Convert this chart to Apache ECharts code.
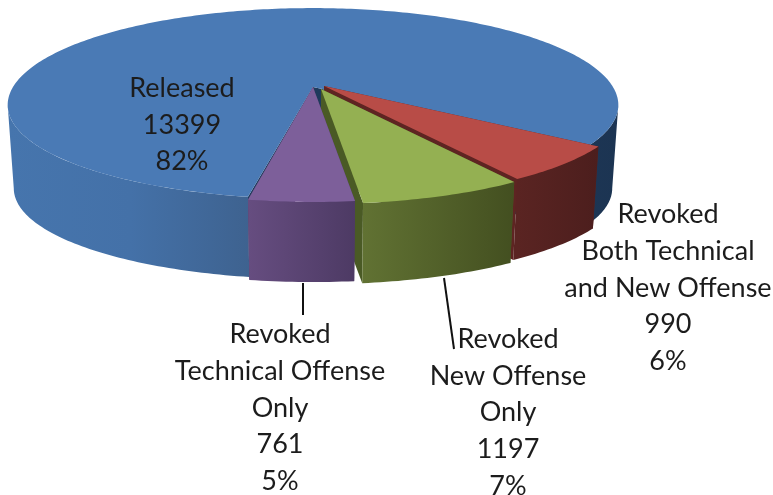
<!DOCTYPE html>
<html>
<head>
<meta charset="utf-8">
<style>
  html, body { margin: 0; padding: 0; background: #fff; }
  #chart { width: 773px; height: 495px; }
</style>
</head>
<body>
<div id="chart"></div>
<script src="https://cdn.jsdelivr.net/npm/echarts@6/dist/echarts.min.js"></script>
<script>
// data, clockwise from the start of the big slice
const categories = [
  'Released',
  'Revoked\nBoth Technical\nand New Offense',
  'Revoked\nNew Offense\nOnly',
  'Revoked\nTechnical Offense\nOnly',
]
const values = [13399, 990, 1197, 761]
const percents = ['82%', '6%', '7%', '5%']

// look of each slice
const topColors = ['#4a7ab5', '#b84c47', '#94b052', '#7d5f9a']
const cutColors = ['#1f3a5c', '#5e2422', '#4a5a25', '#4e3b66']
const wallStops = [
  [[0, '#4675ad'], [0.2, '#4471a8'], [0.4, '#3e628f'], [0.85, '#1e3858'], [1, '#1c3452']],
  [[0, '#5a2422'], [1, '#4c1e1d']],
  [[0, '#617233'], [1, '#434f20']],
  [[0, '#664d80'], [1, '#4d3a64']],
]
const offsets = [[0, 0], [11, -1], [8, 2], [0, 0]]
const frontTrim = [3, 0, 0, 0] // the big slice stops a little short of the others at the front
const labelPos = [[182, 125], [668, 288], [508, 412.5], [280, 408]]

// perspective of the disc, top face and bottom face
const discTop = { cx: 313, cy: 87, a: 300, b: 93.6, k: 0.186 }
const discBottom = { cx: 313, cy: 171, a: 294, b: 90.4, k: 0.186 }
const startAngle = -10.2 // degrees from the front of the pie, right is positive
const sideAngle = (Math.acos(discTop.k) * 180) / Math.PI // where the disc is widest

const total = values.reduce((s, v) => s + v, 0)

function project(disc, deg, idx) {
  const t = (deg * Math.PI) / 180
  const x = Math.sin(t)
  const z = Math.cos(t)
  const w = 1 - disc.k * z
  const trim = frontTrim[idx] * Math.max(z, 0) ** 2
  return [
    disc.cx + (disc.a * x) / w + offsets[idx][0],
    disc.cy + (disc.b * z) / w + offsets[idx][1] - trim,
  ]
}

function arc(disc, from, to, idx) {
  const pts = []
  const n = Math.max(2, Math.ceil(Math.abs(to - from)))
  for (let i = 0; i <= n; i++) {
    pts.push(project(disc, from + ((to - from) * i) / n, idx))
  }
  return pts
}

function sliceRange(idx) {
  let sum = 0
  for (let i = 0; i < idx; i++) sum += values[i]
  const from = startAngle - (sum / total) * 360
  return [from, from - (values[idx] / total) * 360]
}

function poly(points, fill) {
  return { type: 'polygon', shape: { points }, style: { fill, stroke: null } }
}

function wallPiece(from, to, idx, fill) {
  return poly(arc(discTop, from, to, idx).concat(arc(discBottom, from, to, idx).reverse()), fill)
}

function renderSlice(params, api) {
  const idx = params.dataIndex
  const [from, to] = sliceRange(idx)
  const off = offsets[idx]
  const apexTop = [discTop.cx + off[0], discTop.cy + off[1]]
  const apexBottom = [discBottom.cx + off[0], discBottom.cy + off[1]]
  const topArc = arc(discTop, from, to, idx)
  const bottomArc = arc(discBottom, from, to, idx)

  const xs = topArc.map(p => p[0])
  const wallFill = new echarts.graphic.LinearGradient(
    Math.min(...xs), 0, Math.max(...xs), 0,
    wallStops[idx].map(s => ({ offset: s[0], color: s[1] })),
    true
  )

  // only the part of the wall that faces the viewer
  const walls = []
  if (from - to > 180) {
    walls.push(wallPiece(from, -sideAngle, idx, wallFill))
    walls.push(wallPiece(sideAngle - 360, to, idx, wallFill))
  } else {
    walls.push(wallPiece(from, to, idx, wallFill))
  }

  return {
    type: 'group',
    children: [
      // faces left by the cut, seen where a slice is pulled out
      poly([apexTop, topArc[0], bottomArc[0], apexBottom], cutColors[idx]),
      poly([apexTop, topArc[topArc.length - 1], bottomArc[bottomArc.length - 1], apexBottom], cutColors[idx]),
      ...walls,
      poly([apexTop].concat(topArc), topColors[idx]),
    ],
  }
}

function renderLabel(params, api) {
  const idx = params.dataIndex
  return {
    type: 'text',
    x: labelPos[idx][0],
    y: labelPos[idx][1],
    style: {
      text: categories[idx] + '\n' + api.value(0) + '\n' + percents[idx],
      font: '27px Lato, "Open Sans", sans-serif',
      lineHeight: 36.7,
      fill: '#1c1c1c',
      align: 'center',
      verticalAlign: 'middle',
    },
  }
}

const chart = echarts.init(document.getElementById('chart'))

chart.setOption({
  animation: false,
  backgroundColor: '#fff',
  series: [
    {
      type: 'custom',
      coordinateSystem: 'none',
      renderItem: renderSlice,
      data: values,
      silent: true,
      z: 2,
    },
    {
      type: 'custom',
      coordinateSystem: 'none',
      renderItem: renderLabel,
      data: values,
      silent: true,
      z: 4,
    },
  ],
  graphic: [
    // leader lines
    { type: 'line', shape: { x1: 303, y1: 283, x2: 303, y2: 315 }, style: { stroke: '#111', lineWidth: 2 }, z: 3 },
    { type: 'line', shape: { x1: 444, y1: 278, x2: 454, y2: 349 }, style: { stroke: '#111', lineWidth: 2 }, z: 3 },
  ],
})
</script>
</body>
</html>
